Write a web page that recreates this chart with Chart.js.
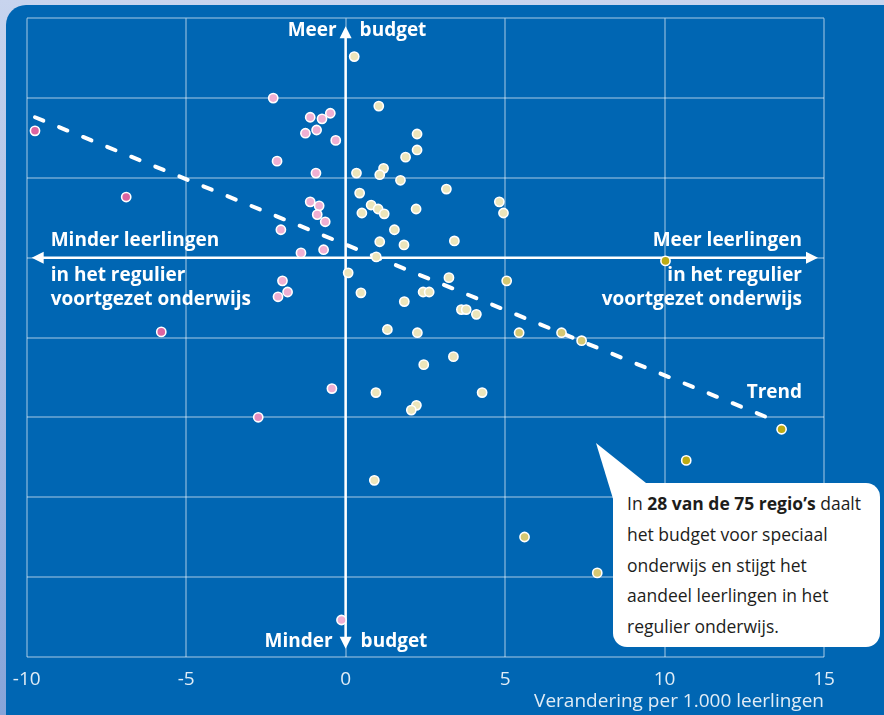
<!DOCTYPE html>
<html>
<head>
<meta charset="utf-8">
<title>Budget speciaal onderwijs per regio</title>
<script src="https://cdn.jsdelivr.net/npm/chart.js@4.4.1/dist/chart.umd.min.js"></script>
<style>
  html, body { margin: 0; padding: 0; }
  body {
    width: 884px; height: 715px; overflow: hidden; position: relative;
    background: linear-gradient(#c8d4ee, #86a4d9);
    font-family: 'Open Sans', sans-serif;
  }
  .panel {
    position: absolute; left: 6px; top: 5px; width: 900px; height: 740px;
    background: #0066b3; border-radius: 20px;
  }
  #chart { position: absolute; left: 0; top: 0; }
  .callout-tip {
    position: absolute; left: 590px; top: 440px; width: 60px; height: 62px;
    background: #fff;
    clip-path: polygon(6px 3px, 24px 62px, 56px 43px);
  }
  .callout {
    position: absolute; left: 613px; top: 483px; width: 267px; height: 164px;
    box-sizing: border-box; padding: 5px 0 0 14px;
    background: #fff; border-radius: 14px;
    font-size: 17.5px; line-height: 30.8px; color: #1d1d1b;
  }
  .callout b { font-weight: 700; }
</style>
</head>
<body>
<div class="panel"></div>
<canvas id="chart" width="884" height="715"></canvas>
<div class="callout-tip"></div>
<div class="callout">In <b>28 van de 75 regio’s</b> daalt<br>het budget voor speciaal<br>onderwijs en stijgt het<br>aandeel leerlingen in het<br>regulier onderwijs.</div>

<script>
// verandering leerlingen regulier VO (x) en budget speciaal onderwijs (y), per regio
const regionX = [
  -9.74, -6.88, -5.78, -2.74, -2.27, -2.15, -2.03, -2.12, -1.82, -1.98,
  -1.40, -1.26, -1.11, -0.91, -0.74, -0.48, -0.31, -0.93, -1.11, -0.83,
  -0.89, -0.64, -0.69, -0.43, -0.13,
  0.27, 1.04, 2.24, 2.24, 1.88, 1.19, 1.07, 0.34, 1.72, 3.16,
  0.44, 0.51, 0.80, 1.02, 1.21, 2.21, 1.53, 1.07, 1.83, 3.41,
  0.96, 4.82, 4.95, 0.08, 0.48, 1.84, 2.43, 2.62, 3.24, 3.63,
  3.78, 4.10, 5.05, 1.31, 2.25, 3.38, 2.45, 0.95, 2.22, 2.06,
  4.28, 0.90,
  10.03, 5.44, 6.77, 7.40, 13.67, 10.68, 5.61, 7.89
];
const regionY = [
  1.59, 0.76, -0.93, -2.00, 2.00, 1.21, 0.35, -0.49, -0.43, -0.29,
  0.06, 1.56, 1.76, 1.60, 1.74, 1.81, 1.47, 1.06, 0.70, 0.65,
  0.54, 0.45, 0.10, -1.64, -4.54,
  2.52, 1.90, 1.55, 1.35, 1.26, 1.12, 1.04, 1.06, 0.97, 0.86,
  0.81, 0.56, 0.66, 0.61, 0.55, 0.61, 0.35, 0.20, 0.16, 0.21,
  0.01, 0.70, 0.56, -0.19, -0.44, -0.55, -0.43, -0.43, -0.25, -0.65,
  -0.65, -0.71, -0.29, -0.90, -0.94, -1.24, -1.34, -1.69, -1.85, -1.91,
  -1.69, -2.79,
  -0.04, -0.94, -0.94, -1.04, -2.15, -2.54, -3.50, -3.95
];
const trendX = [-9.74, 13.64];
const trendY = [1.76, -2.07];
const xTicks = [-10, -5, 0, 5, 10, 15];

const FONT = "'Open Sans', sans-serif";
const GRID = 'rgba(255, 255, 255, 0.33)';

function pointColor(x) {
  if (x < -5) return '#dc64a1';
  if (x < -2.5) return '#e78cbe';
  if (x < 0) return '#efafd2';
  if (x < 5) return '#ece5bb';
  if (x < 10) return '#d5c873';
  return '#bcab14';
}

function arrowHead(ctx, tipX, tipY, dx, dy) {
  // dx/dy: direction the arrow points to
  const len = 12, half = 6;
  const bx = tipX - dx * len, by = tipY - dy * len;
  ctx.beginPath();
  ctx.moveTo(tipX, tipY);
  ctx.lineTo(bx - dy * half, by + dx * half);
  ctx.lineTo(bx + dy * half, by - dx * half);
  ctx.closePath();
  ctx.fill();
}

const quadrantLabels = {
  id: 'quadrantLabels',
  beforeDatasetsDraw(chart) {
    const { ctx, chartArea: a, scales } = chart;
    const x0 = scales.x.getPixelForValue(0);
    const y0 = scales.y.getPixelForValue(0);
    ctx.save();
    ctx.strokeStyle = '#fff';
    ctx.fillStyle = '#fff';
    ctx.lineWidth = 2.5;
    ctx.beginPath();
    ctx.moveTo(x0, a.top + 18);
    ctx.lineTo(x0, a.bottom - 19);
    ctx.moveTo(a.left + 16, y0);
    ctx.lineTo(a.right - 17, y0);
    ctx.stroke();
    arrowHead(ctx, x0, a.top + 8, 0, -1);
    arrowHead(ctx, x0, a.bottom - 8, 0, 1);
    arrowHead(ctx, a.left + 5, y0, -1, 0);
    arrowHead(ctx, a.right - 6, y0, 1, 0);
    ctx.restore();
  },
  afterDatasetsDraw(chart) {
    const { ctx, chartArea: a, scales } = chart;
    const x0 = scales.x.getPixelForValue(0);
    const y0 = scales.y.getPixelForValue(0);
    ctx.save();
    ctx.fillStyle = '#fff';
    ctx.font = 'bold 19px ' + FONT;
    ctx.textBaseline = 'middle';

    ctx.textAlign = 'right';
    ctx.fillText('Meer', x0 - 9, a.top + 12.5);
    ctx.fillText('Minder', x0 - 13, a.bottom - 15);
    ctx.fillText('Meer leerlingen', a.right - 22, y0 - 17);
    ctx.fillText('in het regulier', a.right - 22, y0 + 17.5);
    ctx.fillText('voortgezet onderwijs', a.right - 22, y0 + 42);
    ctx.fillText('Trend', a.right - 22, a.top + 374);

    ctx.textAlign = 'left';
    ctx.fillText('budget', x0 + 14, a.top + 12.5);
    ctx.fillText('budget', x0 + 15, a.bottom - 15);
    ctx.fillText('Minder leerlingen', a.left + 24, y0 - 17);
    ctx.fillText('in het regulier', a.left + 24, y0 + 17.5);
    ctx.fillText('voortgezet onderwijs', a.left + 24, y0 + 42);
    ctx.restore();
  }
};

document.addEventListener('DOMContentLoaded', function() {
  const points = regionX.map((x, i) => ({ x: x, y: regionY[i] }));
  const trend = trendX.map((x, i) => ({ x: x, y: trendY[i] }));

  const ctx = document.getElementById('chart').getContext('2d');

  new Chart(ctx, {
    type: 'scatter',
    data: {
      datasets: [
        {
          label: 'Regio',
          data: points,
          order: 1,
          pointRadius: 4.6,
          pointBorderWidth: 1.6,
          pointBorderColor: '#ffffff',
          pointBackgroundColor: (c) => pointColor(c.raw ? c.raw.x : 0),
        },
        {
          type: 'line',
          label: 'Trend',
          data: trend,
          order: 2,
          borderColor: '#ffffff',
          borderWidth: 4,
          borderDash: [9, 17],
          borderCapStyle: 'round',
          pointRadius: 0,
          fill: false,
        },
      ],
    },
    options: {
      responsive: false,
      animation: false,
      events: [],
      layout: {
        padding: { left: 26.7, right: 60, top: 18.3, bottom: 0 },
      },
      plugins: {
        legend: { display: false },
        tooltip: { enabled: false },
      },
      scales: {
        x: {
          type: 'linear',
          min: -10,
          max: 15,
          afterBuildTicks: (scale) => {
            scale.ticks = xTicks.map(v => ({ value: v }));
          },
          afterFit: (scale) => { scale.height = 58.3; },
          border: { display: false },
          grid: { color: GRID, lineWidth: 2, drawTicks: false },
          ticks: {
            color: 'rgba(255, 255, 255, 0.88)',
            font: { family: FONT, size: 19 },
            padding: 11,
            maxRotation: 0,
          },
          title: {
            display: true,
            text: 'Verandering per 1.000 leerlingen',
            align: 'end',
            color: 'rgba(255, 255, 255, 0.88)',
            font: { family: FONT, size: 19 },
            padding: { top: 0, bottom: 2 },
          },
        },
        y: {
          min: -5,
          max: 3,
          afterFit: (scale) => { scale.width = 0; },
          border: { display: false },
          grid: { color: GRID, lineWidth: 2, drawTicks: false },
          ticks: { display: false, stepSize: 1 },
        },
      },
    },
    plugins: [quadrantLabels],
  });
});
</script>
</body>
</html>
